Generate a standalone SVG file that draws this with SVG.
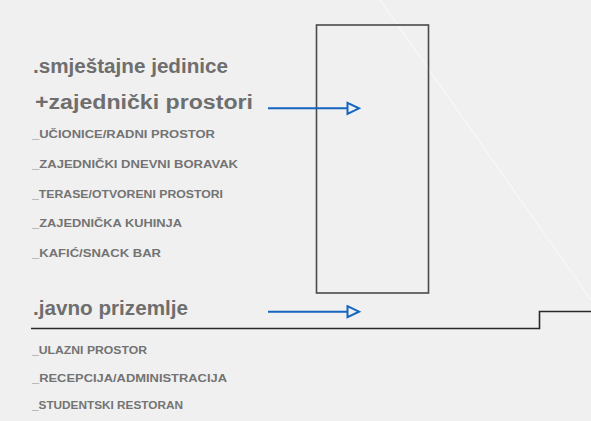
<svg xmlns="http://www.w3.org/2000/svg" width="591" height="421" viewBox="0 0 591 421">
<defs>
<marker id="tri" markerWidth="16" markerHeight="16" refX="13" refY="7" orient="auto" markerUnits="userSpaceOnUse">
<path d="M1.5,1.5 L13,7 L1.5,12.5 Z" fill="#f0f0f0" stroke="#1565c0" stroke-width="2"/>
</marker>
<style>
.title{font-family:"Liberation Sans",Arial,sans-serif;font-weight:bold;font-size:20px;fill:#6e6e6e}
.item{font-family:"Liberation Sans",Arial,sans-serif;font-weight:bold;font-size:11.5px;fill:#737373}
.conn{stroke:#1565c0;stroke-width:2;fill:none}
</style>
</defs>
<rect width="591" height="421" fill="#f0f0f0"/>
<line x1="380" y1="0" x2="591" y2="300" stroke="#fbfbfb" stroke-width="1"/>
<g id="building">
<rect x="316.5" y="25" width="112" height="268" fill="none" stroke="#4a4a4a" stroke-width="1.6"/>
</g>
<g id="ground">
<polyline points="31,328.5 539.5,328.5 539.5,311.5 591,311.5" fill="none" stroke="#2a2a2a" stroke-width="1.6"/>
</g>
<g id="upper">
<text class="title" x="33" y="73" textLength="195" lengthAdjust="spacingAndGlyphs">.smještajne jedinice</text>
<text class="title" x="35" y="109" textLength="218" lengthAdjust="spacingAndGlyphs">+zajednički prostori</text>
<text class="item" x="32" y="138" textLength="183" lengthAdjust="spacingAndGlyphs">_UČIONICE/RADNI PROSTOR</text>
<text class="item" x="32" y="168" textLength="206" lengthAdjust="spacingAndGlyphs">_ZAJEDNIČKI DNEVNI BORAVAK</text>
<text class="item" x="32" y="198" textLength="191" lengthAdjust="spacingAndGlyphs">_TERASE/OTVORENI PROSTORI</text>
<text class="item" x="32" y="227" textLength="150" lengthAdjust="spacingAndGlyphs">_ZAJEDNIČKA KUHINJA</text>
<text class="item" x="32" y="257" textLength="129" lengthAdjust="spacingAndGlyphs">_KAFIĆ/SNACK BAR</text>
</g>
<g id="ground-floor">
<text class="title" x="33" y="315" textLength="155" lengthAdjust="spacingAndGlyphs">.javno prizemlje</text>
<text class="item" x="32" y="354" textLength="115" lengthAdjust="spacingAndGlyphs">_ULAZNI PROSTOR</text>
<text class="item" x="32" y="382" textLength="195" lengthAdjust="spacingAndGlyphs">_RECEPCIJA/ADMINISTRACIJA</text>
<text class="item" x="32" y="409" textLength="151" lengthAdjust="spacingAndGlyphs">_STUDENTSKI RESTORAN</text>
</g>
<g id="connectors">
<line class="conn" x1="268" y1="108.3" x2="359" y2="108.3" marker-end="url(#tri)"/>
<line class="conn" x1="268" y1="311.7" x2="359" y2="311.7" marker-end="url(#tri)"/>
</g>
</svg>
